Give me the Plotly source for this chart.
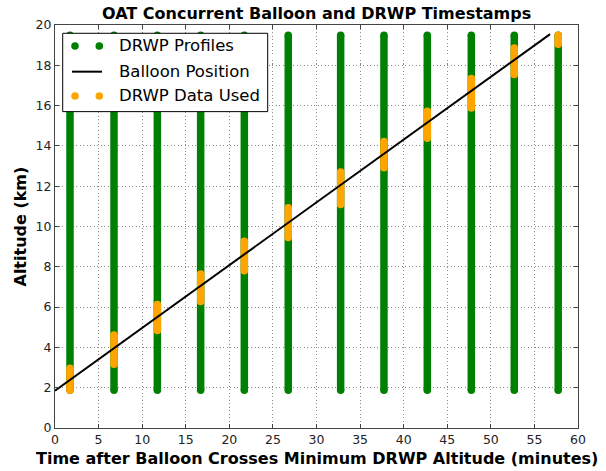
import plotly.graph_objects as go

# ---- data ----
profile_times = [1.72, 6.77, 11.74, 16.71, 21.72, 26.76, 32.77, 37.74, 42.71, 47.76, 52.69, 57.73]
profile_bottom_km = 1.87
profile_top_km = 19.49
used_bottom_km = [1.87, 3.16, 4.84, 6.28, 7.80, 9.45, 11.09, 12.91, 14.38, 15.88, 17.54, 19.05]
used_top_km = [2.96, 4.61, 6.13, 7.64, 9.27, 10.93, 12.71, 14.22, 15.72, 17.34, 18.86, 19.49]
balloon_time = [0.0, 56.8]
balloon_alt_km = [1.85, 19.55]

x_ticks = list(range(0, 61, 5))
y_ticks = list(range(0, 21, 2))

GREEN = "#008000"
ORANGE = "#FFA500"
FONT = "DejaVu Sans"
W = 7.5

def segments(xs, y0s, y1s):
    X, Y = [], []
    for x, a, b in zip(xs, y0s, y1s):
        X += [x, x, None]
        Y += [a, b, None]
    return X, Y

fig = go.Figure()

gx, gy = segments(profile_times, [profile_bottom_km] * len(profile_times), [profile_top_km] * len(profile_times))
fig.add_trace(go.Scatter(x=gx, y=gy, mode="lines+markers", name="DRWP Profiles",
                         line=dict(color=GREEN, width=W),
                         marker=dict(color=GREEN, size=W, line=dict(width=0)),
                         showlegend=False, hoverinfo="skip"))

ox, oy = segments(profile_times, used_bottom_km, used_top_km)
fig.add_trace(go.Scatter(x=ox, y=oy, mode="lines+markers", name="DRWP Data Used",
                         line=dict(color=ORANGE, width=W),
                         marker=dict(color=ORANGE, size=W, line=dict(width=0)),
                         showlegend=False, hoverinfo="skip"))

fig.add_trace(go.Scatter(x=balloon_time, y=balloon_alt_km, mode="lines", name="Balloon Position",
                         line=dict(color="black", width=2), showlegend=False, hoverinfo="skip"))

# ---- plot-area geometry (pixels) ----
L, R, T, B = 55, 578, 25, 428.3
PW, PH = R - L, B - T

def px(x):
    return (x - L) / PW

def py(y):
    return (B - y) / PH

shapes = []
annotations = []
# legend box
shapes.append(dict(type="rect", xref="paper", yref="paper",
                   x0=px(62.7), x1=px(267.7), y0=py(111.7), y1=py(33.3),
                   line=dict(color="black", width=1), fillcolor="white", layer="above"))
rows = [46, 71.7, 96]
labels = ["DRWP Profiles", "Balloon Position", "DRWP Data Used"]
for i, (yy, lab) in enumerate(zip(rows, labels)):
    if i == 1:
        shapes.append(dict(type="line", xref="paper", yref="paper",
                           x0=px(72), x1=px(102), y0=py(yy), y1=py(yy),
                           line=dict(color="black", width=2), layer="above"))
    else:
        col = GREEN if i == 0 else ORANGE
        for cx in (75, 99.3):
            shapes.append(dict(type="circle", xref="paper", yref="paper",
                               xsizemode="pixel", ysizemode="pixel",
                               xanchor=px(cx), yanchor=py(yy),
                               x0=-3.8, x1=3.8, y0=-3.8, y1=3.8,
                               fillcolor=col, line=dict(width=0), layer="above"))
    annotations.append(dict(text=lab, xref="paper", yref="paper", x=px(116.5), y=py(yy),
                            xanchor="left", yanchor="middle", showarrow=False,
                            font=dict(family=FONT, size=16.5, color="black")))

# titles
annotations.append(dict(text="<b>OAT Concurrent Balloon and DRWP Timestamps</b>", xref="paper", yref="paper",
                        x=0.5, y=py(13), xanchor="center", yanchor="middle", showarrow=False,
                        font=dict(family=FONT, size=16, color="black")))
annotations.append(dict(text="<b>Time after Balloon Crosses Minimum DRWP Altitude (minutes)</b>", xref="paper", yref="paper",
                        x=0.5, y=py(459), xanchor="center", yanchor="middle", showarrow=False,
                        font=dict(family=FONT, size=16, color="black")))
annotations.append(dict(text="<b>Altitude (km)</b>", xref="paper", yref="paper",
                        x=px(20), y=0.5, xanchor="center", yanchor="middle", showarrow=False, textangle=-90,
                        font=dict(family=FONT, size=16, color="black")))

axis_common = dict(showline=True, linecolor="#444", linewidth=1, mirror="ticks",
                   ticks="inside", ticklen=4, tickcolor="#444", tickwidth=1,
                   showgrid=True, gridcolor="#8a8a8a", griddash="1px,2.5px", gridwidth=1,
                   zeroline=False, tickfont=dict(family=FONT, size=12.5, color="#222"))

fig.update_xaxes(range=[0, 60], tickvals=x_ticks, **axis_common)
fig.update_yaxes(range=[0, 20], tickvals=y_ticks, **axis_common)

fig.update_layout(width=606, height=471,
                  margin=dict(l=L, r=606 - R, t=T, b=471 - B),
                  plot_bgcolor="white", paper_bgcolor="white",
                  shapes=shapes, annotations=annotations, showlegend=False)

fig.write_html("out.html", config={"displayModeBar": False},
               post_script="document.body.style.margin='0';document.body.style.overflow='hidden';")
